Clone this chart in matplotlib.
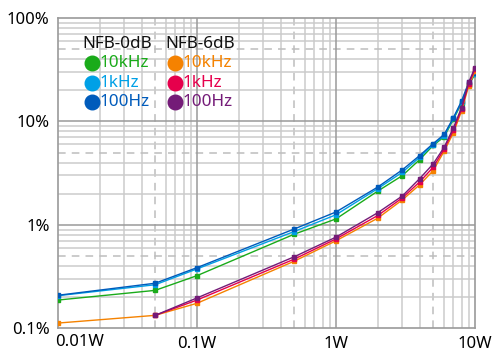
import matplotlib
matplotlib.use('Agg')
import matplotlib.pyplot as plt
import matplotlib.transforms as mtransforms
import numpy as np

plt.rcParams['font.family'] = ['Noto Sans', 'DejaVu Sans']

# output power (W) and THD+N (%)
watts = [0.01, 0.05, 0.1, 0.5, 1, 2, 3, 4, 5, 6, 7, 8, 9, 10]
watts_6db = [0.05, 0.1, 0.5, 1, 2, 3, 4, 5, 6, 7, 8, 9, 10]

nfb0_10k = [0.187, 0.232, 0.322, 0.81, 1.14, 2.12, 2.99, 4.27, 5.85, 7.1, 10.5, 15.0, 22.5, 28.5]
nfb0_1k = [0.206, 0.263, 0.374, 0.86, 1.25, 2.24, 3.22, 4.5, 5.95, 7.3, 10.7, 15.4, 23.2, 29.0]
nfb0_100 = [0.208, 0.272, 0.385, 0.91, 1.33, 2.32, 3.40, 4.68, 6.1, 7.48, 10.9, 15.7, 23.8, 29.7]
nfb6_10k = [0.112, 0.133, 0.174, 0.444, 0.70, 1.16, 1.74, 2.44, 3.34, 5.15, 7.77, 12.6, 22.0, 30.5]
nfb6_1k = [0.133, 0.187, 0.465, 0.73, 1.23, 1.82, 2.60, 3.6, 5.4, 8.2, 13.1, 23.0, 32.0]
nfb6_100 = [0.133, 0.196, 0.49, 0.76, 1.31, 1.90, 2.80, 3.88, 5.63, 8.69, 13.6, 23.8, 33.2]

x_ticks = [0.01, 0.1, 1, 10]
x_labels = ['0.01W', '0.1W', '1W', '10W']
y_ticks = [0.1, 1, 10, 100]
y_labels = ['0.1%', '1%', '10%', '100%']

green = '#1aab1a'
lblue = '#00a0e6'
dblue = '#005bbb'
orange = '#f58200'
red = '#e6004c'
purple = '#741b78'

fig = plt.figure(figsize=(5.0, 3.61), dpi=100)
ax = fig.add_axes([0.116, 0.091, 0.834, 0.859])
ax.set_xscale('log')
ax.set_yscale('log')
ax.set_xlim(0.01, 10)
ax.set_ylim(0.1, 100)

# grid: solid minor, dashed at 5, darker at decades
for d in [0.01, 0.1, 1]:
    for m in range(2, 10):
        if m == 5:
            ax.axvline(d * m, color='#bdbdbd', lw=1.1, ls=(0, (5, 4)), zorder=0)
        else:
            ax.axvline(d * m, color='#cbcbcb', lw=1.1, zorder=0)
for d in [0.1, 1, 10]:
    for m in range(2, 10):
        if m == 5:
            ax.axhline(d * m, color='#bdbdbd', lw=1.1, ls=(0, (5, 4)), zorder=0)
        else:
            ax.axhline(d * m, color='#cbcbcb', lw=1.1, zorder=0)
for v in [0.1, 1]:
    ax.axvline(v, color='#9a9a9a', lw=1.1, zorder=0)
for v in [1, 10]:
    ax.axhline(v, color='#9a9a9a', lw=1.1, zorder=0)

for s in ax.spines.values():
    s.set_color('#9a9a9a')
    s.set_linewidth(1.2)

ax.set_xticks(x_ticks)
ax.set_xticklabels(x_labels)
ax.set_yticks(y_ticks)
ax.set_yticklabels(y_labels)
ax.minorticks_off()
ax.tick_params(length=0, labelsize=12, pad=6)
ax.get_xticklabels()[0].set_horizontalalignment('left')
ax.get_xticklabels()[0].set_transform(ax.get_xaxis_transform() +
                                      mtransforms.ScaledTranslation(-0.03, 0, fig.dpi_scale_trans))
ax.get_xticklabels()[0].set_y(-0.02)

kw = dict(lw=1.0, marker='s', ms=2.6, zorder=3)
ax.plot(watts, nfb0_10k, color=green, **kw)
ax.plot(watts, nfb0_1k, color=lblue, **kw)
ax.plot(watts, nfb0_100, color=dblue, **kw)
ax.plot(watts, nfb6_10k, color=orange, **kw)
ax.plot(watts_6db, nfb6_1k, color=red, **kw)
ax.plot(watts_6db, nfb6_100, color=purple, **kw)

# legend drawn by hand in figure pixels
W, H = 500, 361
def px(x, y):
    return x / W, 1 - y / H

fig.text(*px(82, 44), 'NFB-0dB', fontsize=12.3, color='#111111', va='center', ha='left')
fig.text(*px(165, 44), 'NFB-6dB', fontsize=12.3, color='#111111', va='center', ha='left')
entries = [(92, 63, green, '10kHz'), (92, 83, lblue, '1kHz'), (92, 102, dblue, '100Hz'),
           (175, 63, orange, '10kHz'), (175, 83, red, '1kHz'), (175, 102, purple, '100Hz')]
for cx, cy, c, t in entries:
    fig.lines.append(plt.Line2D([cx / W], [1 - cy / H], transform=fig.transFigure,
                                marker='o', ms=10.5, color=c, mec=c, ls=''))
    fig.text(*px(cx + 7, cy), t, fontsize=12.3, color=c, va='center', ha='left')

plt.savefig('out.png', dpi=100, facecolor='white')
